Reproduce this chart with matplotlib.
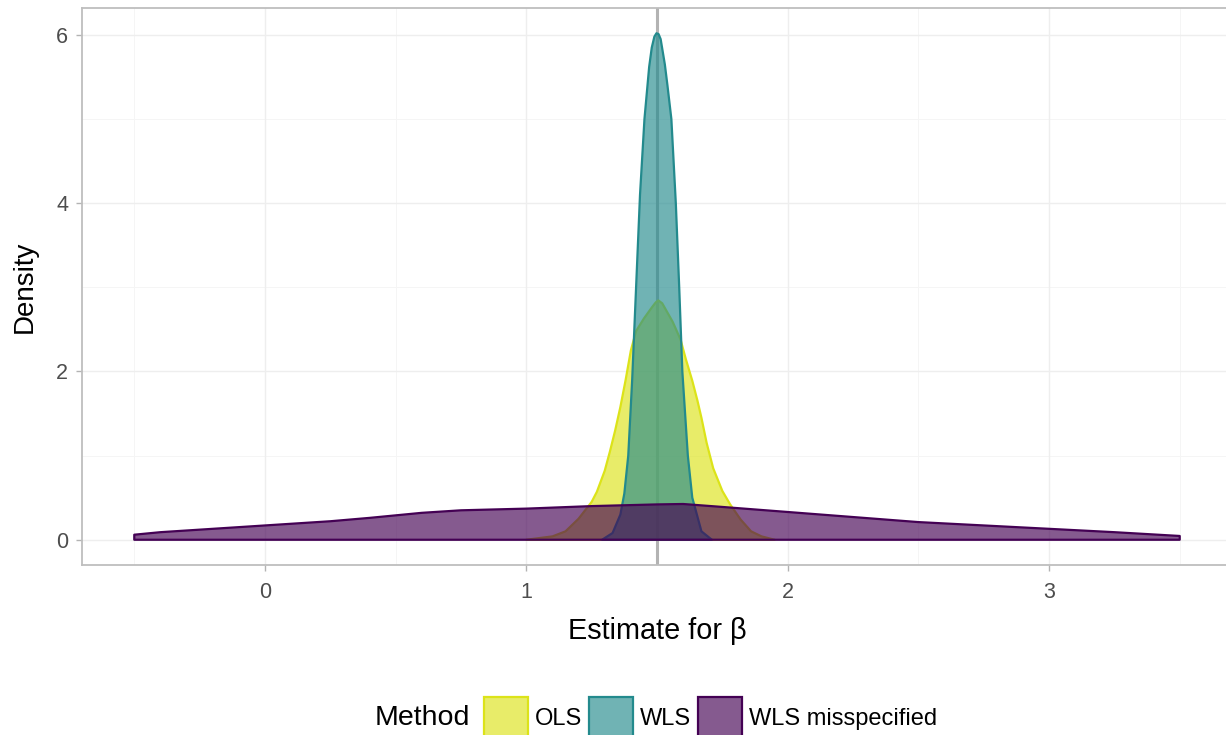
import numpy as np
import matplotlib
matplotlib.use("Agg")
import matplotlib.pyplot as plt
from matplotlib.patches import Patch

plt.rcParams['font.family'] = ['Liberation Sans', 'DejaVu Sans']

# density curves (estimate, density)
ols_x = [1.00, 1.10, 1.15, 1.20, 1.25, 1.27, 1.30, 1.32, 1.34, 1.36, 1.38, 1.40, 1.42,
         1.45, 1.48, 1.495, 1.505, 1.52, 1.54, 1.56, 1.59, 1.61, 1.635, 1.655, 1.67,
         1.69, 1.715, 1.75, 1.78, 1.82, 1.86, 1.90, 1.95]
ols_y = [0.00, 0.04, 0.10, 0.25, 0.45, 0.57, 0.82, 1.05, 1.30, 1.58, 1.90, 2.25, 2.48,
         2.63, 2.76, 2.82, 2.845, 2.81, 2.70, 2.59, 2.38, 2.15, 1.89, 1.65, 1.45,
         1.15, 0.85, 0.58, 0.42, 0.24, 0.10, 0.04, 0.00]

wls_x = [1.29, 1.33, 1.36, 1.375, 1.39, 1.405, 1.42, 1.435, 1.452, 1.47, 1.48, 1.49,
         1.498, 1.506, 1.514, 1.53, 1.54, 1.555, 1.572, 1.585, 1.597, 1.618, 1.635,
         1.67, 1.71]
wls_y = [0.00, 0.08, 0.30, 0.55, 1.00, 1.90, 3.00, 4.10, 5.00, 5.62, 5.85, 5.98,
         6.02, 6.01, 5.95, 5.65, 5.40, 5.00, 4.00, 3.00, 2.00, 1.00, 0.50,
         0.10, 0.00]

mis_x = [-0.5, -0.4, -0.25, 0.0, 0.25, 0.4, 0.5, 0.6, 0.75, 1.0, 1.25, 1.5, 1.6,
         1.75, 2.0, 2.25, 2.5, 2.75, 3.0, 3.25, 3.5]
mis_y = [0.06, 0.09, 0.12, 0.17, 0.22, 0.26, 0.29, 0.32, 0.35, 0.37, 0.40, 0.42, 0.425,
         0.39, 0.33, 0.27, 0.21, 0.17, 0.13, 0.09, 0.045]

methods = ['OLS', 'WLS', 'WLS misspecified']
colors = ['#DCE319', '#238A8D', '#440154']
true_beta = 1.5

fig = plt.figure(figsize=(12.26, 7.35), dpi=100)
ax = fig.add_axes([82 / 1226, 170 / 735, 1150 / 1226, 557 / 735])

# grid like ggplot
for v in [-0.5, 0.5, 1.5, 2.5, 3.5]:
    ax.axvline(v, color='#F5F5F5', lw=0.7, zorder=0)
for v in [1, 3, 5]:
    ax.axhline(v, color='#F5F5F5', lw=0.7, zorder=0)
for v in [0, 1, 2, 3]:
    ax.axvline(v, color='#EEEEEE', lw=1.0, zorder=0)
for v in [0, 2, 4, 6]:
    ax.axhline(v, color='#EEEEEE', lw=1.0, zorder=0)

ax.axvline(true_beta, color='#B3B3B3', lw=2.2, zorder=1)

for xs, ys, c in [(ols_x, ols_y, colors[0]), (wls_x, wls_y, colors[1]),
                  (mis_x, mis_y, colors[2])]:
    px = list(xs) + [xs[-1], xs[0]]
    py = list(ys) + [0, 0]
    ax.fill(px, py, facecolor=matplotlib.colors.to_rgba(c, 0.65), edgecolor=c,
            lw=1.6, joinstyle='round', zorder=2)

ax.set_xlim(-0.7, 3.7)
ax.set_ylim(-0.30, 6.32)
ax.set_xticks([0, 1, 2, 3])
ax.set_yticks([0, 2, 4, 6])
ax.tick_params(colors='#B3B3B3', labelcolor='#4D4D4D', labelsize=15.5, length=4,
               width=1, pad=6)
ax.tick_params(axis='x', pad=8)
for s in ax.spines.values():
    s.set_color('#BEBEBE')
    s.set_linewidth(1.3)

ax.set_xlabel('Estimate for β', fontsize=20.8, labelpad=10)
ax.set_ylabel('Density', fontsize=20, labelpad=13)

handles = [Patch(facecolor=matplotlib.colors.to_rgba(c, 0.65), edgecolor=c, lw=1.6)
           for c in colors]
fig.text(375 / 1226, 17 / 735, 'Method', fontsize=20.5, ha='left', va='center')
fig.legend(handles, methods, loc='center left', bbox_to_anchor=(484 / 1226, 17 / 735),
           ncol=3, frameon=False, fontsize=17, handlelength=1.85, handleheight=2.3,
           handletextpad=0.3, columnspacing=0.3, borderpad=0, borderaxespad=0)

fig.savefig('out.png', dpi=100)
